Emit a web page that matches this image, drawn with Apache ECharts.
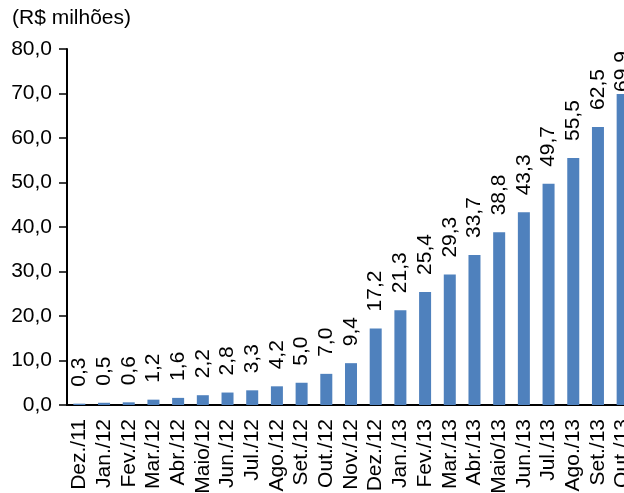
<!DOCTYPE html>
<html>
<head>
<meta charset="utf-8">
<script src="https://cdn.jsdelivr.net/npm/echarts@6/dist/echarts.min.js"></script>
<style>
html, body { margin: 0; padding: 0; background: #fff; }
#chart { width: 624px; height: 493px; }
</style>
</head>
<body>
<div id="chart"></div>
<script>
var myChart = echarts.init(document.getElementById('chart'));

var months = ['Dez./11', 'Jan./12', 'Fev./12', 'Mar./12', 'Abr./12', 'Maio/12', 'Jun./12',
    'Jul./12', 'Ago./12', 'Set./12', 'Out./12', 'Nov./12', 'Dez./12', 'Jan./13', 'Fev./13',
    'Mar./13', 'Abr./13', 'Maio/13', 'Jun./13', 'Jul./13', 'Ago./13', 'Set./13', 'Out./13'];

var values = [0.3, 0.5, 0.6, 1.2, 1.6, 2.2, 2.8, 3.3, 4.2, 5.0, 7.0, 9.4, 17.2, 21.3, 25.4,
    29.3, 33.7, 38.8, 43.3, 49.7, 55.5, 62.5, 69.9];

var font = 'Liberation Sans, Arial, sans-serif';

function fmt(v) {
    return v.toFixed(1).replace('.', ',');
}

// last label sits closer to its bar (it would leave the plot otherwise)
var barData = values.map(function (v, i) {
    if (i === values.length - 1) {
        return { value: v, label: { distance: 8, offset: [-6, 0] } };
    }
    return v;
});

myChart.setOption({
    animation: false,
    title: {
        text: '(R$ milhões)',
        left: 12,
        top: 8,
        padding: 0,
        textStyle: {
            fontFamily: font,
            fontSize: 21,
            fontWeight: 'normal',
            color: '#000'
        }
    },
    grid: {
        left: 67,
        right: -11,
        top: 49,
        bottom: 88,
        outerBoundsMode: 'none',
        containLabel: false
    },
    xAxis: {
        type: 'category',
        data: months,
        axisLine: { lineStyle: { color: '#000', width: 2 } },
        axisTick: { length: 5, lineStyle: { color: '#000', width: 1.5 } },
        axisLabel: {
            interval: 0,
            rotate: 90,
            margin: 14,
            fontFamily: font,
            fontSize: 21,
            color: '#000'
        }
    },
    yAxis: {
        type: 'value',
        min: 0,
        max: 80,
        interval: 10,
        splitLine: { show: false },
        axisLine: { show: true, lineStyle: { color: '#000', width: 2 } },
        axisTick: { show: true, length: 8, lineStyle: { color: '#000', width: 1.5 } },
        axisLabel: {
            margin: 15,
            fontFamily: font,
            fontSize: 21,
            color: '#000',
            formatter: fmt
        }
    },
    series: [{
        type: 'bar',
        data: barData,
        barWidth: 12,
        itemStyle: { color: '#4F81BD' },
        label: {
            show: true,
            position: 'top',
            rotate: 90,
            align: 'left',
            verticalAlign: 'middle',
            distance: 17,
            fontFamily: font,
            fontSize: 21,
            color: '#000',
            formatter: function (p) { return fmt(p.value); }
        }
    }]
});
</script>
</body>
</html>
